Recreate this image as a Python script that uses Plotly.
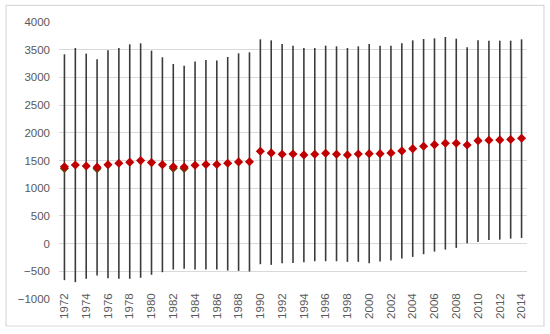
import plotly.graph_objects as go

years = list(range(1972, 2015))
highs = [3417, 3531, 3430, 3327, 3489, 3531, 3597, 3615, 3483, 3363, 3243, 3210, 3288,
         3315, 3303, 3369, 3435, 3453, 3687, 3669, 3603, 3573, 3531, 3531, 3573, 3561,
         3531, 3561, 3603, 3573, 3573, 3615, 3669, 3693, 3705, 3729, 3699, 3543, 3669,
         3663, 3663, 3663, 3687]
means = [1385, 1420, 1400, 1380, 1425, 1450, 1470, 1498, 1462, 1425, 1388, 1383, 1415,
         1427, 1427, 1451, 1475, 1478, 1667, 1637, 1613, 1617, 1601, 1613, 1631, 1613,
         1601, 1617, 1624, 1624, 1637, 1673, 1714, 1757, 1786, 1811, 1811, 1780, 1858,
         1865, 1872, 1880, 1901]
lows = [-660, -696, -635, -576, -624, -635, -635, -617, -563, -516, -468, -456, -468,
        -468, -468, -486, -492, -504, -372, -384, -354, -348, -336, -318, -318, -318,
        -330, -330, -354, -324, -306, -270, -240, -192, -144, -108, -78, 6, 30, 66, 72,
        90, 102]
# second (darker) series, visible only where it sits below the red marker
dark_years = [1972, 1975, 1982, 1983]
dark_vals = [1355, 1350, 1360, 1355]

x_ticks = list(range(1972, 2015, 2))
y_ticks = list(range(-1000, 4001, 500))

err_plus = [h - m for h, m in zip(highs, means)]
err_minus = [m - l for m, l in zip(means, lows)]

fig = go.Figure()
fig.add_trace(go.Scatter(
    x=years, y=means, mode="markers",
    marker=dict(size=0.1, color="rgba(0,0,0,0)"),
    error_y=dict(type="data", symmetric=False, array=err_plus, arrayminus=err_minus,
                 color="#3b3b3b", thickness=1.6, width=0),
    hoverinfo="skip", showlegend=False))
fig.add_trace(go.Scatter(
    x=dark_years, y=dark_vals, mode="markers",
    marker=dict(symbol="diamond", size=7, color="#5a4a10"),
    showlegend=False))
fig.add_trace(go.Scatter(
    x=years, y=means, mode="markers",
    marker=dict(symbol="diamond", size=7, color="#C00000"),
    showlegend=False))

font = dict(family="Liberation Sans, Arial, sans-serif", size=11.5, color="#595959")

fig.update_layout(
    width=550, height=334,
    margin=dict(l=59, r=23, t=22, b=35),
    paper_bgcolor="white", plot_bgcolor="white",
    font=font,
    xaxis=dict(range=[1971.5, 2014.5], tickmode="array", tickvals=x_ticks,
               ticktext=[str(v) for v in x_ticks], tickangle=-90,
               showgrid=False, zeroline=False, showline=False,
               ticks="", ticklabelstandoff=-9, fixedrange=True),
    yaxis=dict(range=[-1000, 4000], tickmode="array", tickvals=y_ticks,
               showgrid=True, gridcolor="#d9d9d9", gridwidth=1,
               zeroline=True, zerolinecolor="#d9d9d9", zerolinewidth=1,
               showline=False, ticks="", ticklabelstandoff=8, fixedrange=True),
    shapes=[dict(type="rect", xref="paper", yref="paper",
                 x0=-0.1132, x1=1.0363, y0=-0.0974, y1=1.060,
                 line=dict(color="#d9d9d9", width=1.2), fillcolor="rgba(0,0,0,0)",
                 layer="below")],
)

fig.write_html("out.html", config={"displayModeBar": False},
               post_script="document.body.style.margin='0';")
